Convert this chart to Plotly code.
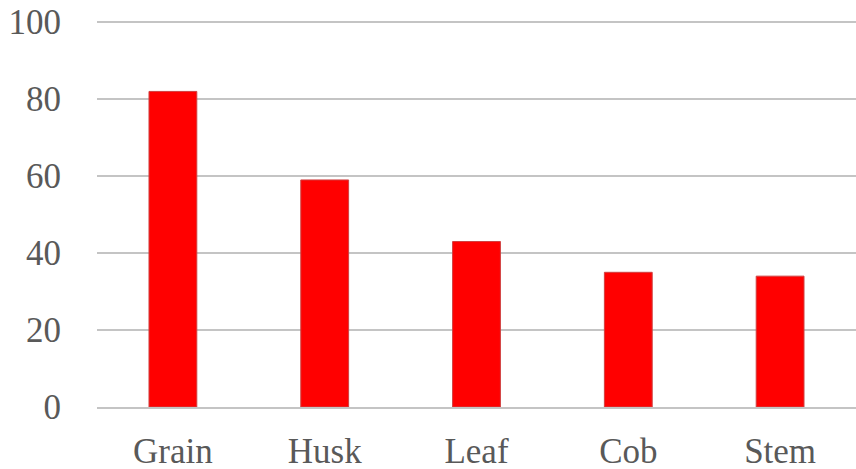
import plotly.graph_objects as go

categories = ["Grain", "Husk", "Leaf", "Cob", "Stem"]
values = [82, 59, 43, 35, 34]
y_ticks = [0, 20, 40, 60, 80, 100]

fig = go.Figure(go.Bar(
    x=categories, y=values,
    marker=dict(color="#ff0000", line=dict(color="#d04040", width=1)),
    width=0.315,
))

font = dict(family="Liberation Serif, Times New Roman, serif", size=35, color="#595959")
fig.update_layout(
    width=856, height=469,
    margin=dict(l=97, r=0, t=21, b=62),
    paper_bgcolor="white", plot_bgcolor="white",
    showlegend=False,
    font=font,
)
fig.update_yaxes(range=[0, 100.3], tickvals=y_ticks, showgrid=True, gridcolor="#c4c4c4", gridwidth=2,
                 zeroline=False, showline=False, ticklabelstandoff=35, tickfont=font, automargin=False)
fig.update_xaxes(showline=True, linecolor="#c4c4c4", linewidth=2, ticklabelstandoff=12, tickfont=font,
                 automargin=False)
fig.write_html("out.html")
